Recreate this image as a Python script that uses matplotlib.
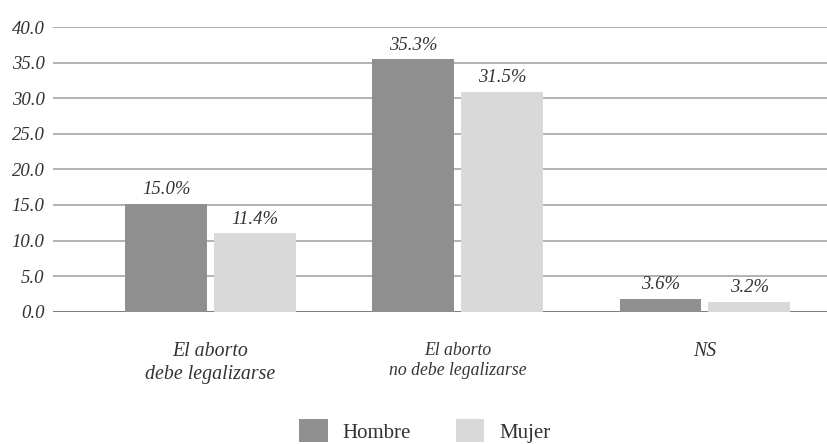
import matplotlib.pyplot as plt
import numpy as np

plt.rcParams['font.family'] = ['Liberation Serif', 'DejaVu Serif']

categories = ['El aborto\ndebe legalizarse', 'El aborto\nno debe legalizarse', 'NS']
series = ['Hombre', 'Mujer']
# bar heights as drawn in the picture
hombre = [15.2, 35.5, 1.8]
mujer = [11.0, 30.9, 1.4]
# value labels as printed above the bars
hombre_lbl = ['15.0%', '35.3%', '3.6%']
mujer_lbl = ['11.4%', '31.5%', '3.2%']
yticks = [0, 5, 10, 15, 20, 25, 30, 35, 40]

c_h = '#8f8f8f'
c_m = '#d9d9d9'
txt = '#333333'

fig = plt.figure(figsize=(8.28, 4.44), dpi=100)
ax = fig.add_axes([0.064, 0.298, 0.936, 0.641])

x = np.arange(len(categories))
w = 0.331
gap = 0.028
b1 = ax.bar(x - (w + gap) / 2, hombre, w, color=c_h, label=series[0], zorder=3)
b2 = ax.bar(x + (w + gap) / 2, mujer, w, color=c_m, label=series[1], zorder=3)

for bars, lbls in ((b1, hombre_lbl), (b2, mujer_lbl)):
    for r, s in zip(bars, lbls):
        ax.annotate(s, xy=(r.get_x() + r.get_width() / 2, r.get_height()),
                    xytext=(0, 4), textcoords='offset points',
                    ha='center', va='bottom', fontsize=13.5, style='italic', color=txt)

ax.set_xlim(-0.637, 2.498)
ax.set_ylim(0, 40)
ax.set_yticks(yticks)
ax.set_yticklabels(['%.1f' % v for v in yticks])
for t in ax.get_yticklabels():
    t.set_fontstyle('italic')
    t.set_fontsize(13.5)
    t.set_color(txt)
for v in yticks:
    ax.axhline(v, color='#666666' if v == 0 else '#a6a6a6', lw=1.2, zorder=1)

ax.set_xticks(x)
ax.set_xticklabels(categories, linespacing=1.25)
sizes = [14.3, 12.7, 14.3]
for t, s in zip(ax.get_xticklabels(), sizes):
    t.set_fontsize(s)
    t.set_fontstyle('italic')
    t.set_color(txt)

ax.tick_params(axis='y', length=0, pad=6)
ax.tick_params(axis='x', length=0, pad=22)
for sp in ax.spines.values():
    sp.set_visible(False)

fig.legend(handles=[b1, b2], labels=series, loc='center left', bbox_to_anchor=(0.349, 0.03),
           ncol=2, frameon=False, fontsize=15, handlelength=1.35, handleheight=1.35,
           handletextpad=0.7, columnspacing=2.2, borderpad=0, labelcolor=txt)

fig.savefig('out.png', dpi=100)
